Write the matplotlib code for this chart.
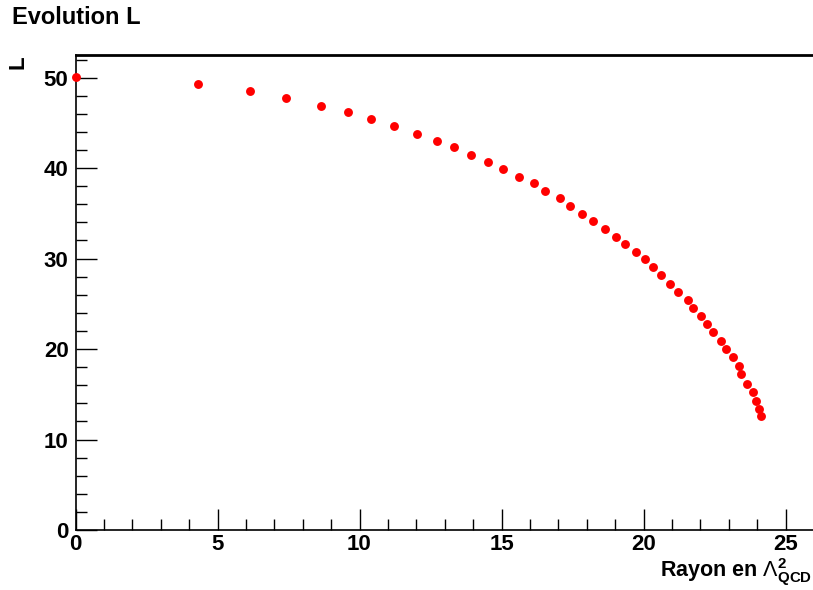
##
# Evolution L : L en fonction du rayon (style ROOT)
##

import matplotlib
matplotlib.use('Agg')
from matplotlib import pyplot as plt
from matplotlib.ticker import MultipleLocator

# valeurs
rayon = [0.00, 4.31, 6.14, 7.40, 8.63, 9.61, 10.41, 11.21, 12.01, 12.72,
         13.33, 13.93, 14.54, 15.04, 15.63, 16.15, 16.52, 17.05, 17.42, 17.84,
         18.21, 18.65, 19.02, 19.35, 19.73, 20.06, 20.34, 20.62, 20.95, 21.23,
         21.56, 21.75, 22.03, 22.22, 22.45, 22.73, 22.92, 23.15, 23.35, 23.44,
         23.63, 23.86, 23.95, 24.05, 24.14]
L = [50.02, 49.25, 48.51, 47.77, 46.88, 46.15, 45.41, 44.67, 43.79, 43.02,
     42.32, 41.44, 40.70, 39.92, 39.04, 38.34, 37.46, 36.69, 35.80, 34.92,
     34.18, 33.29, 32.41, 31.64, 30.75, 29.94, 29.03, 28.14, 27.22, 26.33,
     25.45, 24.56, 23.68, 22.80, 21.91, 20.88, 20.00, 19.08, 18.09, 17.20,
     16.13, 15.28, 14.25, 13.37, 12.63]

title = 'Evolution L'
xtitle = r'Rayon en $\Lambda^{\mathbf{2}}_{\mathbf{QCD}}$'
ytitle = 'L'

plt.rcParams['font.family'] = ['Liberation Sans', 'DejaVu Sans']
plt.rcParams['font.weight'] = 'bold'
plt.rcParams['mathtext.fontset'] = 'custom'
plt.rcParams['mathtext.rm'] = 'Liberation Sans:weight=normal'
plt.rcParams['mathtext.it'] = 'Liberation Sans:italic:weight=normal'
plt.rcParams['mathtext.bf'] = 'Liberation Sans:weight=bold'

W, H = 813, 590
fig = plt.figure(figsize=(W / 100, H / 100), dpi=100)
x0, y0, ytop = 75.5, 530, 55
ax = fig.add_axes([x0 / W, 1 - y0 / H, (W - x0) / W, (y0 - ytop) / H])

ax.plot(rayon, L, 'o', color='#ff0000', markersize=6.4, markeredgewidth=0,
        clip_on=False, zorder=3)

ax.set_xlim(0, (W - x0) / 28.4)
ax.set_ylim(0, 52.5)

ax.xaxis.set_major_locator(MultipleLocator(5))
ax.xaxis.set_minor_locator(MultipleLocator(1))
ax.yaxis.set_major_locator(MultipleLocator(10))
ax.yaxis.set_minor_locator(MultipleLocator(2))

ax.tick_params(which='both', direction='in', top=False, right=False,
               color='black', width=1.0, labelsize=16)
ax.tick_params(which='major', length=15)
ax.tick_params(which='minor', length=8)
ax.tick_params(axis='y', pad=5)
ax.tick_params(axis='x', pad=3.2)

ax.spines['right'].set_visible(False)
ax.spines['top'].set_linewidth(2.0)
ax.spines['left'].set_linewidth(1.2)
ax.spines['bottom'].set_linewidth(1.2)

fig.text(12 / W, 1 - 6 / H, title, ha='left', va='top', fontsize=17,
         fontweight='bold')
fig.text(17.5 / W, 1 - 55 / H, ytitle, rotation=90, ha='center', va='top',
         fontsize=16, fontweight='bold')
fig.text(1 - 1 / W, 1 - 577 / H, xtitle, ha='right', va='baseline',
         fontsize=15.5, fontweight='bold')

fig.savefig('out.png', dpi=100)
